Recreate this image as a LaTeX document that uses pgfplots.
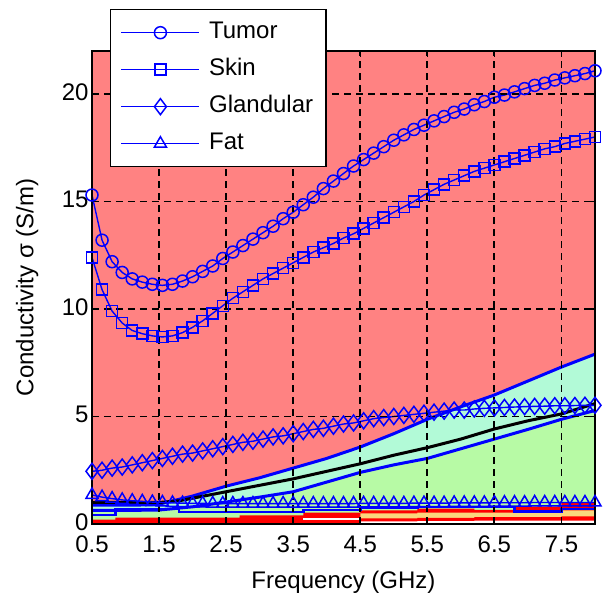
\documentclass[border=0pt]{standalone}
\usepackage{fontspec}
\setmainfont{Liberation Sans}
\usepackage{pgfplots}
\pgfplotsset{compat=1.18}
\definecolor{bgpink}{RGB}{255,130,130}
\definecolor{aqua}{RGB}{178,250,215}
\definecolor{lgreen}{RGB}{183,250,165}
\definecolor{lyellow}{RGB}{250,215,125}
\newcommand{\lbl}{\fontsize{24}{28}\selectfont}

\begin{document}
\begin{tikzpicture}
\begin{axis}[
  scale only axis, width=503pt, height=473pt,
  xmin=0.5, xmax=8, ymin=0, ymax=22,
  xtick={0.5,1.5,2.5,3.5,4.5,5.5,6.5,7.5},
  xticklabels={0.5,1.5,2.5,3.5,4.5,5.5,6.5,7.5},
  ytick={0,5,10,15,20},
  yticklabels={0,5,10,15,20},
  grid=major,
  major grid style={black, line width=1.8pt, dash pattern=on 7pt off 5pt},
  axis on top,
  axis background/.style={fill=bgpink},
  axis line style={black, line width=1.4pt},
  tick style={black, line width=1.4pt},
  tick align=inside, major tick length=6pt,
  tick label style={font=\lbl},
  xticklabel style={yshift=-8pt},
  yticklabel style={yshift=2pt},
  label style={font=\lbl},
  xlabel={Frequency (GHz)},
  ylabel={Conductivity σ (S/m)},
  xlabel style={at={(axis description cs:0.5,-0.1226)}, anchor=center},
  ylabel style={at={(axis description cs:-0.129,0.5)}, anchor=center},
  legend cell align=left,
  legend style={at={(axis description cs:0.0358,1.0888)}, anchor=north west,
    font=\lbl, draw=black, fill=white,
    inner xsep=10pt, inner ysep=9pt, row sep=9pt, column sep=6pt,
    nodes={inner sep=3pt, text height=17pt, text depth=5pt}},
  every axis legend/.append style={line width=1.4pt},
  legend image code/.code={\draw[mark repeat=2,mark phase=2,#1]
    plot coordinates {(0pt,0pt) (39pt,0pt) (78pt,0pt)};},
  tissue/.style={draw=blue, line width=1.4pt,
    mark options={solid, fill=white, draw=blue, line width=1.5pt}},
]

% range of the glandular group
\addplot[draw=none, fill=aqua, forget plot] coordinates {
  (0.5,0.88) (1.2,0.88) (1.5,0.92) (1.8,1.15) (2.0,1.3) (2.5,1.76) (3.0,2.15)
  (3.5,2.6) (4.0,3.05) (4.5,3.58) (5.0,4.2) (5.5,4.87) (6.0,5.45) (6.5,6.0)
  (7.0,6.65) (7.5,7.3) (8.0,7.9)} \closedcycle;
\addplot[draw=none, fill=lgreen, forget plot] coordinates {
  (0.5,0.63) (1.0,0.63) (1.5,0.65) (2.0,0.8) (2.5,1.02) (3.0,1.25) (3.5,1.5)
  (4.0,1.95) (4.5,2.4) (5.0,2.75) (5.5,3.05) (6.0,3.5) (6.5,3.95) (7.0,4.4)
  (7.5,4.87) (8.0,5.28)} \closedcycle;

% fat group bands
\addplot[const plot, draw=none, fill=red, forget plot] coordinates {
  (0.5,0.2) (0.85,0.3) (2.7,0.4) (3.65,0.53) (4.5,0.63) (5.35,0.72)
  (6.2,0.66) (6.8,0.81) (7.5,0.97) (8,0.97)} \closedcycle;
\addplot[const plot, draw=none, fill=lyellow, forget plot] coordinates {
  (4.5,0.49) (5.35,0.53) (6.2,0.53) (6.8,0.6) (7.5,0.63) (8,0.63)} \closedcycle;
\addplot[const plot, draw=none, fill=red, forget plot] coordinates {
  (4.5,0.26) (5.35,0.29) (6.2,0.32) (7.5,0.35) (8,0.35)} \closedcycle;
\addplot[const plot, draw=none, fill=white, forget plot] coordinates {
  (4.5,0.12) (5.35,0.13) (6.2,0.16) (8,0.16)} \closedcycle;
\addplot[white, line width=2pt, forget plot] coordinates {(3.65,0.25) (4.5,0.25)};
\addplot[const plot, blue, line width=2.5pt, forget plot] coordinates {
  (0.5,0.41) (0.85,0.7) (1.8,0.55) (3.65,0.65) (4.5,0.75) (5.35,0.78)
  (6.8,0.59) (7.5,0.7) (8,0.7)};

% boundary and median lines
\addplot[blue, line width=3pt, forget plot] coordinates {
  (0.5,0.88) (1.2,0.88) (1.5,0.92) (1.8,1.15) (2.0,1.3) (2.5,1.76) (3.0,2.15)
  (3.5,2.6) (4.0,3.05) (4.5,3.58) (5.0,4.2) (5.5,4.87) (6.0,5.45) (6.5,6.0)
  (7.0,6.65) (7.5,7.3) (8.0,7.9)};
\addplot[blue, line width=3pt, forget plot] coordinates {
  (0.5,0.63) (1.0,0.63) (1.5,0.65) (2.0,0.8) (2.5,1.02) (3.0,1.25) (3.5,1.5)
  (4.0,1.95) (4.5,2.4) (5.0,2.75) (5.5,3.05) (6.0,3.5) (6.5,3.95) (7.0,4.4)
  (7.5,4.87) (8.0,5.28)};
\addplot[black, line width=3pt, forget plot] coordinates {
  (0.5,1.0) (1.5,1.0) (1.8,1.08) (2.5,1.5) (3.0,1.8) (3.5,2.1) (4.0,2.45)
  (4.5,2.8) (5.0,3.2) (5.5,3.55) (6.0,3.95) (6.5,4.42) (7.0,4.8) (7.5,5.12)
  (8.0,5.6)};

% measured tissues
\addplot[tissue, mark=o, mark size=6pt] coordinates {
  (0.5,15.3) (0.65,13.2) (0.8,12.2) (0.95,11.7) (1.1,11.4) (1.25,11.25)
  (1.4,11.15) (1.55,11.1) (1.7,11.15) (1.85,11.3) (2.0,11.5) (2.15,11.75)
  (2.3,12.0) (2.45,12.35) (2.6,12.65) (2.75,12.95) (2.9,13.25) (3.05,13.55)
  (3.2,13.85) (3.35,14.2) (3.5,14.5) (3.65,14.85) (3.8,15.2) (3.95,15.6)
  (4.1,15.95) (4.25,16.3) (4.4,16.65) (4.55,16.95) (4.7,17.25) (4.85,17.55)
  (5.0,17.85) (5.15,18.1) (5.3,18.35) (5.45,18.55) (5.6,18.75) (5.75,18.95)
  (5.9,19.15) (6.05,19.3) (6.2,19.5) (6.35,19.65) (6.5,19.85) (6.65,19.95)
  (6.8,20.1) (6.95,20.25) (7.1,20.4) (7.25,20.5) (7.4,20.65) (7.55,20.75)
  (7.7,20.85) (7.85,20.95) (8.0,21.08)};
\addlegendentry{Tumor}
\addplot[tissue, mark=square, mark size=5.5pt] coordinates {
  (0.5,12.4) (0.65,10.9) (0.8,9.9) (0.95,9.35) (1.1,9.0) (1.25,8.85)
  (1.4,8.75) (1.55,8.7) (1.7,8.75) (1.85,8.9) (2.0,9.15) (2.15,9.45)
  (2.3,9.8) (2.45,10.15) (2.6,10.5) (2.75,10.8) (2.9,11.1) (3.05,11.4)
  (3.2,11.65) (3.35,11.9) (3.5,12.15) (3.65,12.4) (3.8,12.65) (3.95,12.85)
  (4.1,13.05) (4.25,13.3) (4.4,13.5) (4.55,13.75) (4.7,14.0) (4.85,14.25)
  (5.0,14.5) (5.15,14.75) (5.3,15.0) (5.45,15.3) (5.6,15.55) (5.75,15.8)
  (5.9,16.0) (6.05,16.2) (6.2,16.4) (6.35,16.55) (6.5,16.7) (6.65,16.85)
  (6.8,17.0) (6.95,17.15) (7.1,17.3) (7.25,17.45) (7.4,17.55) (7.55,17.7)
  (7.7,17.8) (7.85,17.9) (8.0,18.0)};
\addlegendentry{Skin}
\addplot[tissue, mark=diamond, mark size=8pt] coordinates {
  (0.5,2.45) (0.65,2.5) (0.8,2.6) (0.95,2.65) (1.1,2.75) (1.25,2.85)
  (1.4,2.95) (1.55,3.05) (1.7,3.15) (1.85,3.25) (2.0,3.3) (2.15,3.4)
  (2.3,3.5) (2.45,3.6) (2.6,3.7) (2.75,3.8) (2.9,3.85) (3.05,3.95)
  (3.2,4.05) (3.35,4.1) (3.5,4.2) (3.65,4.3) (3.8,4.4) (3.95,4.45)
  (4.1,4.55) (4.25,4.65) (4.4,4.7) (4.55,4.8) (4.7,4.9) (4.85,4.95)
  (5.0,5.0) (5.15,5.05) (5.3,5.1) (5.45,5.15) (5.6,5.2) (5.75,5.25)
  (5.9,5.3) (6.05,5.3) (6.2,5.35) (6.35,5.38) (6.5,5.4) (6.65,5.42)
  (6.8,5.44) (6.95,5.46) (7.1,5.47) (7.25,5.48) (7.4,5.5) (7.55,5.5)
  (7.7,5.51) (7.85,5.52) (8.0,5.52)};
\addlegendentry{Glandular}
\addplot[tissue, mark=triangle, mark size=7pt] coordinates {
  (0.5,1.35) (0.65,1.25) (0.8,1.18) (0.95,1.12) (1.1,1.08) (1.25,1.05)
  (1.4,1.02) (1.55,1.0) (1.7,0.98) (1.85,0.97) (2.0,0.96) (2.15,0.96)
  (2.3,0.95) (2.45,0.95) (2.6,0.95) (2.75,0.95) (2.9,0.95) (3.05,0.95)
  (3.2,0.95) (3.35,0.95) (3.5,0.95) (3.65,0.95) (3.8,0.95) (3.95,0.95)
  (4.1,0.95) (4.25,0.95) (4.4,0.95) (4.55,0.96) (4.7,0.96) (4.85,0.96)
  (5.0,0.96) (5.15,0.96) (5.3,0.97) (5.45,0.97) (5.6,0.97) (5.75,0.97)
  (5.9,0.98) (6.05,0.98) (6.2,0.98) (6.35,0.98) (6.5,0.99) (6.65,0.99)
  (6.8,0.99) (6.95,0.99) (7.1,1.0) (7.25,1.0) (7.4,1.0) (7.55,1.0)
  (7.7,1.0) (7.85,1.0) (8.0,1.0)};
\addlegendentry{Fat}

\coordinate (SW) at (rel axis cs:0,0);
\end{axis}
\path (SW) ++(-92pt,-71pt) rectangle ++(605pt,595pt);
\end{tikzpicture}
\end{document}
